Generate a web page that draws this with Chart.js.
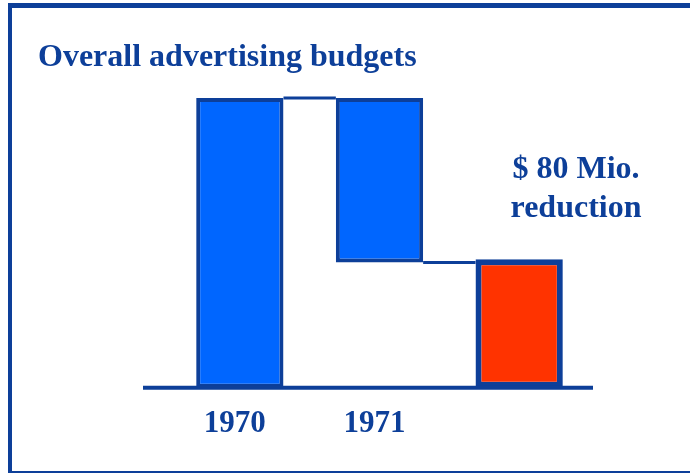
<!DOCTYPE html>
<html lang="en">
<head>
    <meta charset="UTF-8">
    <title>Overall advertising budgets</title>
    <script src="https://cdn.jsdelivr.net/npm/chart.js"></script>
    <style>
        html, body { margin: 0; padding: 0; background: #fff; }
        #wrap { width: 690px; height: 473px; position: relative; }
    </style>
</head>
<body>
    <div id="wrap"><canvas id="budgetChart"></canvas></div>
    <script>
        // budget figures in $ Mio (1970 scaled from the 80 Mio step)
        const years = ['1970', '1971', ''];
        const barStart = [0, 80, 0];
        const barEnd = [185, 185, 82];
        const barColors = ['#0066FF', '#0066FF', '#FF3300'];
        const noteLines = ['$ 80 Mio.', 'reduction'];
        const chartTitle = 'Overall advertising budgets';

        const navy = '#0D3F99';
        const serif = '"Liberation Serif", "Times New Roman", serif';

        const decorations = {
            id: 'decorations',
            beforeDraw(chart) {
                const ctx = chart.ctx;
                ctx.save();
                ctx.fillStyle = navy;
                // slide frame
                ctx.fillRect(8, 3, 690, 5);
                ctx.fillRect(8, 3, 4, 470);
                ctx.fillRect(8, 471, 690, 2);
                // title
                ctx.font = 'bold 32px ' + serif;
                ctx.textBaseline = 'alphabetic';
                ctx.textAlign = 'left';
                ctx.fillText(chartTitle, 38, 66);
                ctx.restore();
            },
            afterDatasetsDraw(chart) {
                const ctx = chart.ctx;
                const meta = chart.getDatasetMeta(0).data;
                const yScale = chart.scales.y;
                const area = chart.chartArea;
                ctx.save();
                ctx.strokeStyle = navy;
                // connectors between the bars
                ctx.lineWidth = 3;
                ctx.beginPath();
                for (let i = 0; i < meta.length - 1; i++) {
                    const a = meta[i], b = meta[i + 1];
                    const y = yScale.getPixelForValue(i === 0 ? barEnd[i] : barStart[i]);
                    ctx.moveTo(a.x + a.width / 2, y);
                    ctx.lineTo(b.x - b.width / 2, y);
                }
                ctx.stroke();
                // base line
                ctx.lineWidth = 4;
                const y0 = yScale.getPixelForValue(0);
                ctx.beginPath();
                ctx.moveTo(area.left - 27, y0);
                ctx.lineTo(area.right + 4, y0);
                ctx.stroke();
                // annotation
                ctx.fillStyle = navy;
                ctx.font = 'bold 32px ' + serif;
                ctx.textAlign = 'center';
                ctx.textBaseline = 'alphabetic';
                ctx.fillText(noteLines[0], 576, 178);
                ctx.fillText(noteLines[1], 576, 217);
                ctx.restore();
            }
        };

        new Chart(document.getElementById('budgetChart'), {
            type: 'bar',
            data: {
                labels: years,
                datasets: [{
                    data: years.map((y, i) => [barStart[i], barEnd[i]]),
                    backgroundColor: barColors,
                    borderColor: navy,
                    borderWidth: [4, 4, 6],
                    borderSkipped: false,
                    barPercentage: 0.625,
                    categoryPercentage: 1,
                    clip: false
                }]
            },
            options: {
                responsive: true,
                maintainAspectRatio: false,
                animation: false,
                layout: { padding: { left: 170, right: 101, top: 98, bottom: 20 } },
                plugins: {
                    legend: { display: false },
                    tooltip: { enabled: false }
                },
                scales: {
                    x: {
                        grid: { display: false },
                        border: { display: false },
                        ticks: {
                            color: navy,
                            padding: 10,
                            labelOffset: -5,
                            font: { family: serif, size: 31, weight: 'bold' }
                        }
                    },
                    y: {
                        display: false,
                        min: 0,
                        max: 185
                    }
                }
            },
            plugins: [decorations]
        });
    </script>
</body>
</html>
